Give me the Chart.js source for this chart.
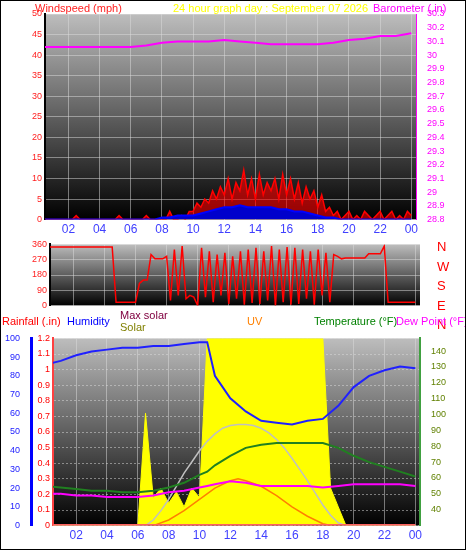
<!DOCTYPE html><html><head><meta charset="utf-8">
<script src="https://cdn.jsdelivr.net/npm/chart.js@4"></script>
<style>
body{margin:0;background:#fff;font-family:"Liberation Sans",Arial,sans-serif}
#wrap{position:absolute;left:0;top:0;width:464px;height:548px;border:1px solid #000;overflow:hidden}
.box{position:absolute;left:-1px}
.t{position:absolute;font-size:11px;white-space:nowrap;line-height:12px}
</style></head><body><div id="wrap">
<div class="box" style="top:-1px"><canvas id="c1" width="466" height="240"></canvas></div>
<div class="box" style="top:235px"><canvas id="c2" width="466" height="78"></canvas></div>
<div class="box" style="top:329px"><canvas id="c3" width="466" height="216"></canvas></div>
<div class="t" style="left:34px;top:1px;color:#ff2020">Windspeed (mph)</div>
<div class="t" style="left:172px;top:1px;color:#ffff00">24 hour graph day : September 07 2026</div>
<div class="t" style="left:372px;top:1px;color:#ff00ff">Barometer (.in)</div>
<div class="t" style="left:436px;top:236px;color:#ff0000;font-size:13px;line-height:19.5px">N<br>W<br>S<br>E<br>N</div>
<div class="t" style="left:1px;top:314px;color:#ff0000">Rainfall (.in)</div>
<div class="t" style="left:66px;top:314px;color:#0000ff">Humidity</div>
<div class="t" style="left:119px;top:308px;color:#800040">Max solar</div>
<div class="t" style="left:119px;top:320px;color:#808000">Solar</div>
<div class="t" style="left:246px;top:314px;color:#ff8000">UV</div>
<div class="t" style="left:313px;top:314px;color:#008000">Temperature (°F)</div>
<div class="t" style="left:395px;top:314px;color:#ff00ff">Dew Point (°F)</div>
</div>
<script>
const hourTicks=[2,4,6,8,10,12,14,16,18,20,22,24];
const hourLabels=["02","04","06","08","10","12","14","16","18","20","22","00"];
const baroHours=[0,1,2,3,4,5,6,7,8,9,10,11,12,13,14,15,16,17,18,19,20,21,22,23,24];
const baro=[30.06,30.06,30.06,30.06,30.06,30.06,30.06,30.07,30.09,30.10,30.10,30.10,30.11,30.10,30.09,30.08,30.08,30.08,30.08,30.09,30.11,30.12,30.14,30.14,30.16];
const halfHours=Array.from({length:49},(_,i)=>i/2);
const gustHours=Array.from({length:97},(_,i)=>i/4);
const gust=[0,1,0,0,0,0,0,0,0,0,1,0,0,0,0,0,0,0,0,0,0,1,0,0,0,0,0,0,1,0,0,0,0,0,2,0,0,1,0,2,
2,4,3,5,4,7,5,8,6,10,5,9,7,12,6,10,5,11,6,9,7,10,5,11,6,10,5,9,4,8,5,7,
3,6,2,3,1,2,0,1,2,0,1,0,2,1,0,1,2,0,1,2,0,1,0,2,1];
const avgWind=[0,0,0,0,0,0,0,0,0,0,0,0,0,0,0,0,0.5,0.5,1,1,1,1.5,2,2.5,3,3,3.5,3,3,3,3,2.5,2.5,2,2,1.5,1,0.5,0.5,0,0,0,0,0,0,0,0,0,0];
const qHours=Array.from({length:97},(_,i)=>i/4);
const windDir=[345,345,345,345,345,345,345,345,345,345,345,345,345,345,345,345,345,345,345,20,
20,20,20,20,20,130,150,150,300,275,275,275,290,30,330,60,350,40,60,50,
0,340,50,320,20,300,60,310,10,290,40,320,5,330,15,340,10,320,30,350,
0,330,20,345,5,340,10,330,40,320,5,330,60,310,20,300,290,275,280,280,
280,280,280,280,305,305,305,305,350,20,20,20,20,20,20,20,20];
const dayHours=[0,1,2,3,4,5,6,7,8,9,10,10.5,11,12,13,14,15,16,17,18,19,20,21,22,23,24];
const humidity=[86,88,91,93,94,95,95,96,96,97,98,98,80,68,61,56,55,54,56,57,64,74,80,83,85,84];
const temperature=[55,54,53,52,52,51,51,52,54,57,62,64,68,74,79,81,82,82,82,82,79,74,70,67,64,61];
const dewPoint=[50,50,49,49,48,48,48,49,51,52,54,55,56,58,57,55,55,55,55,54,55,56,56,56,56,55];
const rainfall=dayHours.map(()=>0);
const solar=[0,0,0,0,0,0,0,0,0,0,0,0,0,600,150,200,120,180,100,200,150,1000,1000,1000,1000,1000,1000,1000,1000,1000,1000,1000,1000,1000,1000,1000,1000,200,100,0,0,0,0,0,0,0,0,0,0];
const maxSolar=[0,0,0,0,0,0,0,0,0,0,0,0,0,0,30,80,140,210,280,340,400,450,490,520,535,540,540,535,520,495,460,415,360,300,240,175,110,55,15,0,0,0,0,0,0,0,0,0,0];
const uvHours=[7,8,9,10,11,12,12.5,13,14,15,16,17,18,18.5];
const uv=[0,0.3,0.8,1.4,2,2.4,2.5,2.4,2.1,1.6,1,0.5,0.1,0];

const xy=(xs,ys)=>xs.map((x,i)=>({x,y:ys[i]}));
const bg={id:'bg',beforeDraw(c){const a=c.chartArea,g=c.ctx.createLinearGradient(0,a.top,0,a.bottom);
g.addColorStop(0,'#bdbdbd');g.addColorStop(1,'#000');c.ctx.fillStyle=g;c.ctx.fillRect(a.left,a.top,a.right-a.left,a.bottom-a.top);}};
const fixW=w=>s=>{s.width=w};
const grid={color:'rgba(220,220,220,0.5)',borderDash:[1,2],drawTicks:false};
const xAxis=(show)=>({type:'linear',min:0.5,max:24.3,afterBuildTicks:a=>{a.ticks=hourTicks.map(v=>({value:v}))},
 ticks:{display:show,color:'#4040ff',font:{size:12},callback:(v)=>hourLabels[hourTicks.indexOf(v)]},grid:grid,border:{display:false}});
const base={responsive:false,animation:false,plugins:{legend:{display:false},tooltip:{enabled:false}},elements:{point:{radius:0}}};
Chart.defaults.font.family='"Liberation Sans",Arial,sans-serif';

new Chart(document.getElementById('c1'),{type:'line',plugins:[bg],data:{datasets:[
 {data:xy(baroHours,baro),yAxisID:'yb',borderColor:'#ff00ff',borderWidth:2},
 {data:xy(halfHours,avgWind),yAxisID:'y',borderColor:'#0000ff',backgroundColor:'#0000cc',fill:'origin',borderWidth:2},
 {data:xy(gustHours,gust),yAxisID:'y',borderColor:'#ff0000',backgroundColor:'rgba(255,0,0,0.6)',fill:'origin',borderWidth:1.5}]},
 options:{...base,layout:{padding:{top:14,bottom:0}},scales:{x:xAxis(true),
 y:{min:0,max:50,afterFit:fixW(45),ticks:{stepSize:5,color:'#ff2020',font:{size:9}},grid:grid,border:{color:'#000',width:2}},
 yb:{position:'right',min:28.8,max:30.3,afterFit:fixW(50),ticks:{stepSize:0.1,autoSkip:false,color:'#ff00ff',font:{size:9},callback:v=>(Math.round(v*10)/10).toString()},grid:{display:false},border:{color:'#ff00ff'}}}}});

new Chart(document.getElementById('c2'),{type:'line',plugins:[bg],data:{datasets:[
 {data:xy(qHours,windDir),borderColor:'#ff0000',borderWidth:1.5}]},
 options:{...base,layout:{padding:{top:8,bottom:4}},scales:{x:{...xAxis(false),ticks:{display:false}},
 y:{min:0,max:360,afterFit:fixW(50),afterBuildTicks:a=>{a.ticks=[0,90,180,270,360].map(v=>({value:v}))},ticks:{color:'#ff2020',font:{size:9}},grid:grid,border:{color:'#000',width:2}},
 yr:{position:'right',display:true,min:0,max:360,afterFit:fixW(46),ticks:{display:false},grid:{display:false},border:{display:false}}}}});

new Chart(document.getElementById('c3'),{type:'line',plugins:[bg],data:{datasets:[
 {data:xy(halfHours,solar),yAxisID:'ys',borderColor:'#ffff00',backgroundColor:'#ffff00',fill:'origin',borderWidth:1,order:5},
 {data:xy(halfHours,maxSolar),yAxisID:'ys',borderColor:'#c0c0c0',borderWidth:1.5,order:4},
 {data:xy(uvHours,uv),yAxisID:'yu',borderColor:'#ff8000',borderWidth:1.5,order:3},
 {data:xy(dayHours,rainfall),yAxisID:'yr',borderColor:'#ff6060',borderWidth:3,order:0},
 {data:xy(dayHours,dewPoint),yAxisID:'yt',borderColor:'#ff00ff',borderWidth:2,order:2},
 {data:xy(dayHours,temperature),yAxisID:'yt',borderColor:'#208020',borderWidth:2,order:1},
 {data:xy(dayHours,humidity),yAxisID:'yh',borderColor:'#2020ff',borderWidth:2,order:0}]},
 options:{...base,layout:{padding:{top:7,bottom:0}},scales:{x:xAxis(true),
 yr:{position:'left',min:0,max:1.2,afterFit:fixW(22),ticks:{stepSize:0.1,autoSkip:false,color:'#ff0000',font:{size:9},callback:v=>(Math.round(v*10)/10).toString()},grid:grid,border:{color:'#ff4040',width:2,dash:[2,2]}},
 yh:{position:'left',min:0,max:100,afterFit:fixW(31),ticks:{stepSize:10,color:'#2020ff',font:{size:9}},grid:{display:false},border:{color:'#0000ff',width:3}},
 yt:{position:'right',min:30,max:148,afterFit:fixW(46),afterBuildTicks:a=>{a.ticks=[40,50,60,70,80,90,100,110,120,130,140].map(v=>({value:v}))},ticks:{color:'#608000',font:{size:9}},grid:{display:false},border:{color:'#40a040',width:2,dash:[2,2]}},
 ys:{display:false,min:0,max:1000},yu:{display:false,min:0,max:10}}}});
</script></body></html>
